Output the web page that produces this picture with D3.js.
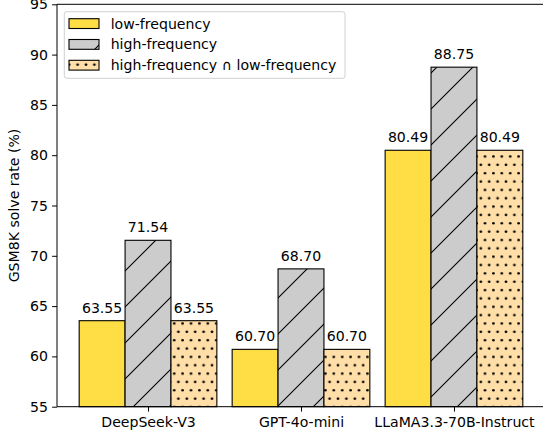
<!DOCTYPE html>
<html><head><meta charset="utf-8">
<script src="https://cdn.jsdelivr.net/npm/d3@7"></script>
<style>body{margin:0;background:#fff}svg{display:block;font-family:"DejaVu Sans",sans-serif}</style>
</head><body>
<svg id="c" width="543" height="438"></svg>
<script>
const categories = ["DeepSeek-V3", "GPT-4o-mini", "LLaMA3.3-70B-Instruct"];
const seriesNames = ["low-frequency", "high-frequency", "high-frequency \u2229 low-frequency"];
const lowFreq = [63.55, 60.70, 80.49];
const highFreq = [71.54, 68.70, 88.75];
const intersect = [63.55, 60.70, 80.49];
const yTicks = [55, 60, 65, 70, 75, 80, 85, 90, 95];
const yLabel = "GSM8K solve rate (%)";

const series = [lowFreq, highFreq, intersect];
const fills = ["#FFDD44", "url(#hatchSlash)", "url(#hatchDots)"];
const fs = 14.1;

const svg = d3.select("#c");
const defs = svg.append("defs");
// slash hatch
const s = 36;
const p1 = defs.append("pattern").attr("id","hatchSlash").attr("patternUnits","userSpaceOnUse")
  .attr("width",s).attr("height",s);
p1.append("rect").attr("width",s).attr("height",s).attr("fill","#CCCCCC");
p1.append("path").attr("d",`M0,${s} L${s},0 M${-s/2},${s/2} L${s/2},${-s/2} M${s/2},${s*1.5} L${s*1.5},${s/2}`)
  .attr("stroke","#000").attr("stroke-width",1.1);
// dot hatch
const dw = 8.4, dh = 16.7;
const p2 = defs.append("pattern").attr("id","hatchDots").attr("patternUnits","userSpaceOnUse")
  .attr("width",dw).attr("height",dh).attr("x",2).attr("y",2);
p2.append("rect").attr("width",dw).attr("height",dh).attr("fill","#FFDEA8");
[[dw/2, dh/4],[0, dh*3/4],[dw, dh*3/4]].forEach(([cx,cy])=>{
  p2.append("circle").attr("cx",cx).attr("cy",cy).attr("r",1.35).attr("fill","#000");
});

const x = d3.scaleLinear().domain([-0.595, 2.595]).range([57, 545]);
const y = d3.scaleLinear().domain([55, 95]).range([406.7, 4.3]);
const bw = 0.3;

// bars
series.forEach((vals, si) => {
  const g = svg.append("g");
  g.selectAll("rect").data(vals).join("rect")
    .attr("x", (d,i) => x(i + (si-1)*bw - bw/2))
    .attr("width", x(bw) - x(0))
    .attr("y", d => y(d))
    .attr("height", d => y(55) - y(d))
    .attr("fill", fills[si])
    .attr("stroke", "#000").attr("stroke-width", 1.1);
  g.selectAll("text").data(vals).join("text")
    .attr("x", (d,i) => x(i + (si-1)*bw))
    .attr("y", d => y(d) - 8)
    .attr("text-anchor","middle").attr("font-size", fs).attr("fill","#000")
    .text(d => d.toFixed(2));
});

// axes
const yAxis = d3.axisLeft(y).tickValues(yTicks).tickSize(4.9).tickPadding(4.2).tickFormat(d3.format("d"));
const ga = svg.append("g").attr("transform","translate(57,0)").call(yAxis);
ga.select(".domain").remove();
ga.selectAll("text").attr("font-size", fs).attr("font-family","DejaVu Sans").attr("fill","#000");
ga.selectAll("line").attr("stroke","#000").attr("stroke-width",1);

const xAxis = d3.axisBottom(x).tickValues([0,1,2]).tickSize(4.9).tickPadding(5.8).tickFormat(i => categories[i]);
const gx = svg.append("g").attr("transform","translate(0,406.7)").call(xAxis);
gx.select(".domain").remove();
gx.selectAll("text").attr("font-size", fs).attr("font-family","DejaVu Sans").attr("fill","#000");
gx.selectAll("line").attr("stroke","#000").attr("stroke-width",1);

// spines
svg.append("line").attr("x1",57).attr("x2",57).attr("y1",4.3).attr("y2",406.7).attr("stroke","#000").attr("stroke-width",1);
svg.append("line").attr("x1",57).attr("x2",545).attr("y1",406.7).attr("y2",406.7).attr("stroke","#000").attr("stroke-width",1);
svg.append("line").attr("x1",57).attr("x2",545).attr("y1",4.3).attr("y2",4.3).attr("stroke","#000").attr("stroke-width",1);

// y label
svg.append("text").attr("transform",`translate(19,${(4.3+406.7)/2}) rotate(-90)`)
  .attr("text-anchor","middle").attr("font-size", fs).attr("fill","#000").text(yLabel);

// legend
const lg = svg.append("g");
lg.append("rect").attr("x",64.3).attr("y",11.7).attr("width",280.7).attr("height",66.6)
  .attr("rx",2.5).attr("fill","#fff").attr("fill-opacity",0.8).attr("stroke","#D0D0D0").attr("stroke-width",1);
const legFills = ["#FFDD44", "url(#hatchSlash)", "url(#hatchDots)"];
seriesNames.forEach((n, i) => {
  const cy = 23.6 + i*20.8;
  lg.append("rect").attr("x",69).attr("y",cy-4.9).attr("width",30).attr("height",9.8)
    .attr("fill",legFills[i]).attr("stroke","#000").attr("stroke-width",1.1);
  lg.append("text").attr("x",110.7).attr("y",cy).attr("dy","0.36em").attr("font-size",fs).attr("fill","#000").text(n);
});
</script>
</body></html>
